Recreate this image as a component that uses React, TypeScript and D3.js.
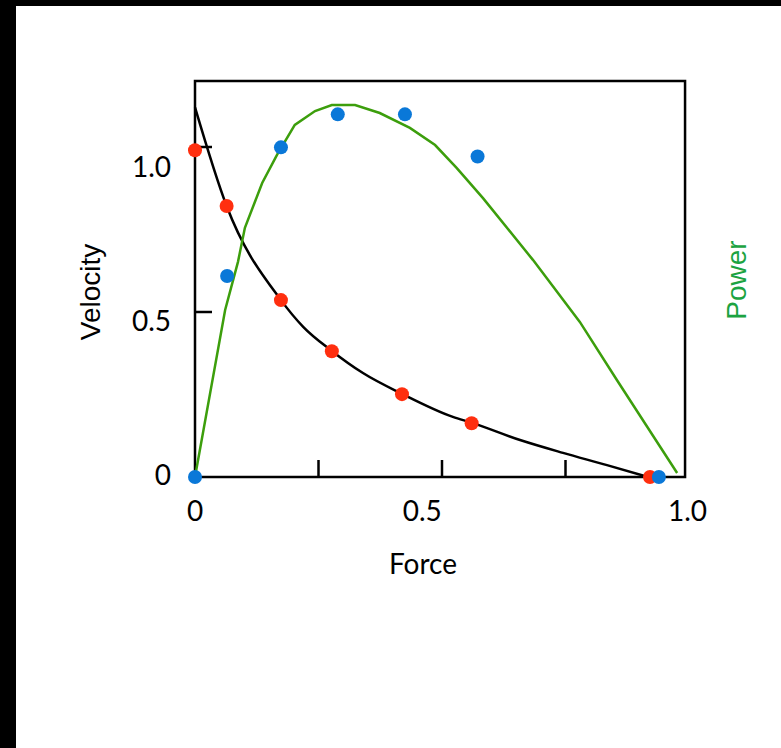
import React, { useEffect, useRef } from "react";
import { curveLinear, curveMonotoneX, line, scaleLinear, select } from "d3";

// measured force / velocity points (red)
const velocityForce = [0, 0.064, 0.174, 0.277, 0.419, 0.56, 0.921];
const velocityValues = [0.99, 0.821, 0.536, 0.381, 0.251, 0.163, 0];

// measured force / power points (blue)
const powerForce = [0, 0.065, 0.174, 0.289, 0.425, 0.572, 0.939];
const powerValues = [0, 0.609, 0.999, 1.099, 1.099, 0.971, 0];

// fitted velocity curve (black)
const fitForce = [0, 0.064, 0.174, 0.219, 0.277, 0.34, 0.419, 0.522, 0.561, 0.658, 0.745, 0.834, 0.917];
const fitVelocity = [1.12, 0.821, 0.536, 0.455, 0.382, 0.315, 0.252, 0.182, 0.164, 0.112, 0.073, 0.036, 0];

// fitted power curve (green)
const powerFitForce = [0, 0.061, 0.087, 0.101, 0.136, 0.166, 0.202, 0.243, 0.277, 0.324, 0.374, 0.435, 0.486, 0.53, 0.583, 0.684, 0.779, 0.854, 0.976];
const powerFitValues = [0, 0.506, 0.652, 0.755, 0.891, 0.976, 1.067, 1.109, 1.127, 1.127, 1.103, 1.058, 1.006, 0.936, 0.845, 0.658, 0.47, 0.294, 0.012];

// ticks and their labels
const xTicks = [0.25, 0.5, 0.75];
const yTicks = [0.5, 1.0];
const xTickLabels = ["0", "0.5", "1.0"];
const xTickLabelAt = [0, 0.46, 0.997];
const yTickLabels = ["0", "0.5", "1.0"];
const yTickLabelAt = [0.006, 0.473, 0.939];

const App = () => {
  const svgRef = useRef();

  useEffect(() => {
    const svg = select(svgRef.current);
    svg.selectAll("*").remove();

    const xScale = scaleLinear().domain([0, 1]).range([195, 689]);
    const yScale = scaleLinear().domain([0, 1]).range([477, 147]);
    const xMax = 0.992;
    const yMax = 1.2;

    svg.append("rect").attr("width", 781).attr("height", 748).attr("fill", "black");
    svg.append("rect").attr("x", 16).attr("y", 6).attr("width", 765).attr("height", 742).attr("fill", "white");

    // frame
    svg
      .append("rect")
      .attr("x", xScale(0))
      .attr("y", yScale(yMax))
      .attr("width", xScale(xMax) - xScale(0))
      .attr("height", yScale(0) - yScale(yMax))
      .attr("fill", "none")
      .attr("stroke", "black")
      .attr("stroke-width", 2.5);

    svg
      .selectAll(".xtick")
      .data(xTicks)
      .join("line")
      .attr("class", "xtick")
      .attr("x1", d => xScale(d))
      .attr("x2", d => xScale(d))
      .attr("y1", yScale(0))
      .attr("y2", yScale(0) - 17)
      .attr("stroke", "black")
      .attr("stroke-width", 2.5);

    svg
      .selectAll(".ytick")
      .data(yTicks)
      .join("line")
      .attr("class", "ytick")
      .attr("x1", xScale(0))
      .attr("x2", xScale(0) + 17)
      .attr("y1", d => yScale(d))
      .attr("y2", d => yScale(d))
      .attr("stroke", "black")
      .attr("stroke-width", 2.5);

    const tickFont = "Lato, 'Open Sans', sans-serif";

    svg
      .selectAll(".xlabel")
      .data(xTickLabels)
      .join("text")
      .attr("class", "xlabel")
      .attr("x", (d, i) => xScale(xTickLabelAt[i]))
      .attr("y", 521)
      .attr("text-anchor", "middle")
      .attr("font-family", tickFont)
      .attr("font-size", 28)
      .text(d => d);

    svg
      .selectAll(".ylabel")
      .data(yTickLabels)
      .join("text")
      .attr("class", "ylabel")
      .attr("x", 171)
      .attr("y", (d, i) => yScale(yTickLabelAt[i]))
      .attr("dy", "0.36em")
      .attr("text-anchor", "end")
      .attr("font-family", tickFont)
      .attr("font-size", 28)
      .text(d => d);

    svg
      .append("text")
      .attr("x", 423)
      .attr("y", 574)
      .attr("text-anchor", "middle")
      .attr("font-family", tickFont)
      .attr("font-size", 28)
      .text("Force");

    svg
      .append("text")
      .attr("transform", "translate(90,292) rotate(-90)")
      .attr("text-anchor", "middle")
      .attr("dy", "0.35em")
      .attr("font-family", "'Liberation Sans', Arial, sans-serif")
      .attr("font-size", 28)
      .text("Velocity");

    svg
      .append("text")
      .attr("transform", "translate(736,280) rotate(-90)")
      .attr("text-anchor", "middle")
      .attr("dy", "0.35em")
      .attr("font-family", "'Liberation Sans', Arial, sans-serif")
      .attr("font-size", 28)
      .attr("fill", "#1ca341")
      .text("Power");

    // curves
    const fitLine = line()
      .x(d => xScale(d[0]))
      .y(d => yScale(d[1]))
      .curve(curveMonotoneX);

    svg
      .append("path")
      .attr("d", fitLine(fitForce.map((f, i) => [f, fitVelocity[i]])))
      .attr("fill", "none")
      .attr("stroke", "black")
      .attr("stroke-width", 2.5);

    const powerLine = line()
      .x(d => xScale(d[0]))
      .y(d => yScale(d[1]))
      .curve(curveLinear);

    svg
      .append("path")
      .attr("d", powerLine(powerFitForce.map((f, i) => [f, powerFitValues[i]])))
      .attr("fill", "none")
      .attr("stroke", "#3c9e0c")
      .attr("stroke-width", 2.5);

    // points
    svg
      .selectAll(".vdot")
      .data(velocityForce)
      .join("circle")
      .attr("class", "vdot")
      .attr("cx", d => xScale(d))
      .attr("cy", (d, i) => yScale(velocityValues[i]))
      .attr("r", 7)
      .attr("fill", "#ff2f0f");

    svg
      .selectAll(".pdot")
      .data(powerForce)
      .join("circle")
      .attr("class", "pdot")
      .attr("cx", d => xScale(d))
      .attr("cy", (d, i) => yScale(powerValues[i]))
      .attr("r", 7)
      .attr("fill", "#0a78d8");
  }, []);

  return (
    <svg
      ref={svgRef}
      width={781}
      height={748}
      style={{ position: "absolute", left: 0, top: 0, display: "block" }}
    />
  );
};

export default App;
